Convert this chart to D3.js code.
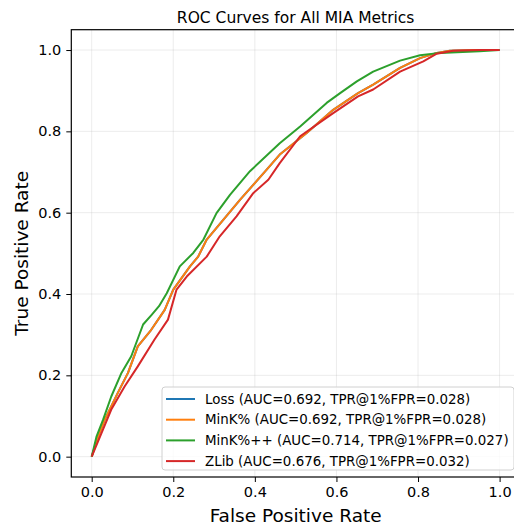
<!DOCTYPE html>
<html>
<head>
<meta charset="utf-8">
<script src="https://cdn.jsdelivr.net/npm/d3@7"></script>
<style>
  body { margin: 0; background: #fff; }
  svg { font-family: "DejaVu Sans", sans-serif; }
</style>
</head>
<body>
<div id="chart"></div>
<script>
// ROC points, [fpr, tpr]
var lossRoc = [[0,0],[0.016,0.05],[0.032,0.091],[0.064,0.157],[0.089,0.206],[0.113,0.271],[0.146,0.312],[0.179,0.361],
  [0.2,0.411],[0.241,0.468],[0.261,0.492],[0.282,0.534],[0.323,0.583],[0.364,0.632],[0.429,0.706],[0.461,0.743],
  [0.527,0.796],[0.592,0.853],[0.653,0.894],[0.69,0.915],[0.756,0.956],[0.805,0.98],[0.846,0.993],[0.878,0.998],[0.95,1],[1,1]];
var minkRoc = lossRoc;
var minkppRoc = [[0,0],[0.012,0.05],[0.028,0.091],[0.048,0.148],[0.073,0.206],[0.097,0.247],[0.126,0.325],[0.148,0.35],
  [0.165,0.37],[0.184,0.402],[0.216,0.468],[0.249,0.501],[0.274,0.534],[0.306,0.599],[0.339,0.644],[0.388,0.702],
  [0.461,0.771],[0.511,0.812],[0.576,0.870],[0.609,0.894],[0.65,0.923],[0.69,0.947],[0.756,0.974],[0.805,0.987],
  [0.854,0.993],[0.951,0.997],[1,1]];
var zlibRoc = [[0,0],[0.024,0.058],[0.048,0.116],[0.081,0.173],[0.113,0.222],[0.154,0.288],[0.187,0.337],[0.208,0.411],
  [0.233,0.443],[0.282,0.492],[0.314,0.542],[0.355,0.591],[0.396,0.648],[0.433,0.681],[0.461,0.722],[0.511,0.788],
  [0.592,0.845],[0.653,0.886],[0.69,0.903],[0.756,0.947],[0.813,0.972],[0.846,0.991],[0.886,0.998],[0.95,1],[1,1]];

var names = ["Loss (AUC=0.692, TPR@1%FPR=0.028)", "MinK% (AUC=0.692, TPR@1%FPR=0.028)",
  "MinK%++ (AUC=0.714, TPR@1%FPR=0.027)", "ZLib (AUC=0.676, TPR@1%FPR=0.032)"];
var colors = ["#1f77b4", "#ff7f0e", "#2ca02c", "#d62728"];
var ticks = [0, 0.2, 0.4, 0.6, 0.8, 1.0];

var series = [lossRoc, minkRoc, minkppRoc, zlibRoc].map(function(d, i) {
  return {name: names[i], color: colors[i], values: d};
});

var W = 514, H = 527;
var m = {left: 71.3, right: 520, top: 29.7, bottom: 477};

var svg = d3.select("#chart").append("svg")
  .attr("width", W)
  .attr("height", H);

var x = d3.scaleLinear().domain([-0.05, 1.05]).range([m.left, m.right]);
var y = d3.scaleLinear().domain([-0.05, 1.05]).range([m.bottom, m.top]);

// grid
svg.append("g").selectAll("line").data(ticks).enter().append("line")
  .attr("x1", function(d) { return x(d); }).attr("x2", function(d) { return x(d); })
  .attr("y1", m.top).attr("y2", m.bottom)
  .attr("stroke", "#b0b0b0").attr("stroke-opacity", 0.3).attr("stroke-width", 0.8);
svg.append("g").selectAll("line").data(ticks).enter().append("line")
  .attr("y1", function(d) { return y(d); }).attr("y2", function(d) { return y(d); })
  .attr("x1", m.left).attr("x2", m.right)
  .attr("stroke", "#b0b0b0").attr("stroke-opacity", 0.3).attr("stroke-width", 0.8);

// curves
var line = d3.line()
  .x(function(d) { return x(d[0]); })
  .y(function(d) { return y(d[1]); });

svg.append("g").selectAll("path").data(series).enter().append("path")
  .attr("d", function(d) { return line(d.values); })
  .attr("fill", "none")
  .attr("stroke", function(d) { return d.color; })
  .attr("stroke-width", 2)
  .attr("stroke-linejoin", "round");

// axes
var xAxis = svg.append("g").attr("transform", "translate(0," + m.bottom + ")")
  .call(d3.axisBottom(x).tickValues(ticks).tickFormat(d3.format(".1f")).tickSizeOuter(0).tickSize(5).tickPadding(5));
var yAxis = svg.append("g").attr("transform", "translate(" + m.left + ",0)")
  .call(d3.axisLeft(y).tickValues(ticks).tickFormat(d3.format(".1f")).tickSizeOuter(0).tickSize(5).tickPadding(5));
[xAxis, yAxis].forEach(function(a) {
  a.select(".domain").remove();
  a.selectAll("line").attr("stroke", "#000").attr("stroke-width", 1);
  a.selectAll("text").attr("fill", "#000").style("font-size", "14.5px").style("font-family", "DejaVu Sans");
});

// spines
svg.append("rect")
  .attr("x", m.left).attr("y", m.top)
  .attr("width", m.right - m.left).attr("height", m.bottom - m.top)
  .attr("fill", "none").attr("stroke", "#000").attr("stroke-width", 1.2);

// labels
svg.append("text").attr("x", (m.left + m.right) / 2).attr("y", 23)
  .attr("text-anchor", "middle").style("font-size", "15.5px").text("ROC Curves for All MIA Metrics");
svg.append("text").attr("x", (m.left + m.right) / 2).attr("y", 522)
  .attr("text-anchor", "middle").style("font-size", "18.5px").text("False Positive Rate");
svg.append("text").attr("transform", "translate(28," + ((m.top + m.bottom) / 2) + ") rotate(-90)")
  .attr("text-anchor", "middle").style("font-size", "18.5px").text("True Positive Rate");

// legend
var lg = svg.append("g");
lg.append("rect")
  .attr("x", 162).attr("y", 387).attr("width", 352).attr("height", 83).attr("rx", 3)
  .attr("fill", "#fff").attr("fill-opacity", 0.8).attr("stroke", "#d0d0d0").attr("stroke-width", 1);
var items = lg.selectAll("g.item").data(series).enter().append("g")
  .attr("transform", function(d, i) { return "translate(0," + (399 + i * 20.7) + ")"; });
items.append("line").attr("x1", 166).attr("x2", 195)
  .attr("stroke", function(d) { return d.color; }).attr("stroke-width", 2);
items.append("text").attr("x", 205).attr("dy", "0.35em")
  .style("font-size", "13.4px").text(function(d) { return d.name; });
</script>
</body>
</html>
